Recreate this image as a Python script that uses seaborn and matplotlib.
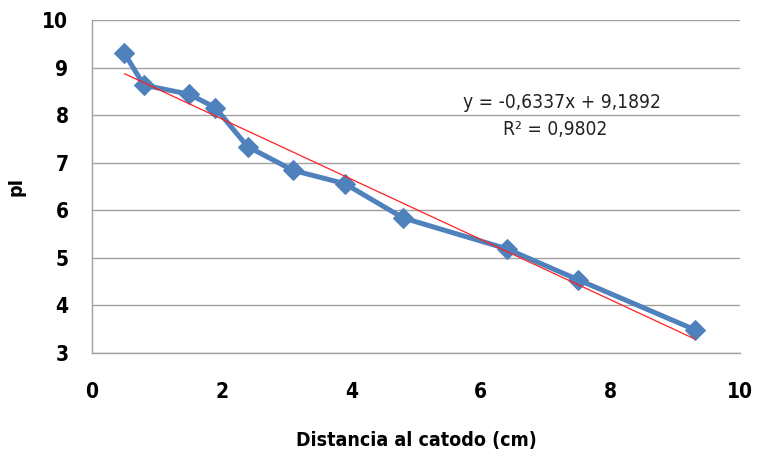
import matplotlib
matplotlib.use("Agg")
import matplotlib.pyplot as plt
import seaborn as sns
import numpy as np
import pandas as pd

# Measured pI along the gel versus distance from the cathode
distance_cm = [0.5, 0.8, 1.5, 1.9, 2.4, 3.1, 3.9, 4.8, 6.4, 7.5, 9.3]
pI_values = [9.3, 8.63, 8.44, 8.16, 7.34, 6.84, 6.56, 5.84, 5.19, 4.54, 3.49]

# Linear trend line coefficients
slope = -0.6337
intercept = 9.1892
r_squared = 0.9802

df = pd.DataFrame({"dist": distance_cm, "pI": pI_values})
trend = pd.DataFrame({"dist": [distance_cm[0], distance_cm[-1]]})
trend["pI"] = slope * trend["dist"] + intercept

sns.set_theme(style="white")
plt.rcParams["font.family"] = ["DejaVu Sans"]
plt.rcParams["font.stretch"] = "condensed"

fig, ax = plt.subplots(figsize=(7.58, 4.61), dpi=100)
fig.subplots_adjust(left=0.1214, right=0.9763, top=0.9566, bottom=0.2343)

sns.lineplot(data=df, x="dist", y="pI", ax=ax, color="#4F81BD", linewidth=3.6,
             marker="D", markersize=10, markeredgecolor="#4F81BD", zorder=3)
sns.lineplot(data=trend, x="dist", y="pI", ax=ax, color="#FF2020", linewidth=0.9, zorder=4)

ax.set_xlim(0, 10)
ax.set_ylim(3, 10)
ax.set_xticks(range(0, 11, 2))
ax.set_yticks(range(3, 11))
ax.yaxis.grid(True, color="#A0A0A0", linewidth=1.0)
ax.set_axisbelow(True)
for s in ["top", "right"]:
    ax.spines[s].set_visible(False)
for s in ["left", "bottom"]:
    ax.spines[s].set_color("#A0A0A0")
    ax.spines[s].set_linewidth(1.0)

ax.tick_params(axis="both", length=0, labelsize=15, labelcolor="black")
ax.tick_params(axis="x", pad=21)
ax.tick_params(axis="y", pad=17)
for lbl in ax.get_xticklabels() + ax.get_yticklabels():
    lbl.set_fontweight("bold")

ax.set_xlabel("Distancia al catodo (cm)", fontsize=14, fontweight="bold", color="black")
ax.xaxis.set_label_coords(0.5, -0.235)
ax.set_ylabel("pI", fontsize=14, fontweight="bold", color="black")
ax.yaxis.set_label_coords(-0.103, 0.5)

eq = f"y = {slope:.4f}x + {intercept:.4f}".replace(".", ",")
r2 = f"R² = {r_squared:.4f}".replace(".", ",")
ax.text(7.26, 8.26, eq, ha="center", va="center", fontsize=13.8, color="#222222")
ax.text(7.15, 7.69, r2, ha="center", va="center", fontsize=13.8, color="#222222")

fig.savefig("out.png", dpi=100)
